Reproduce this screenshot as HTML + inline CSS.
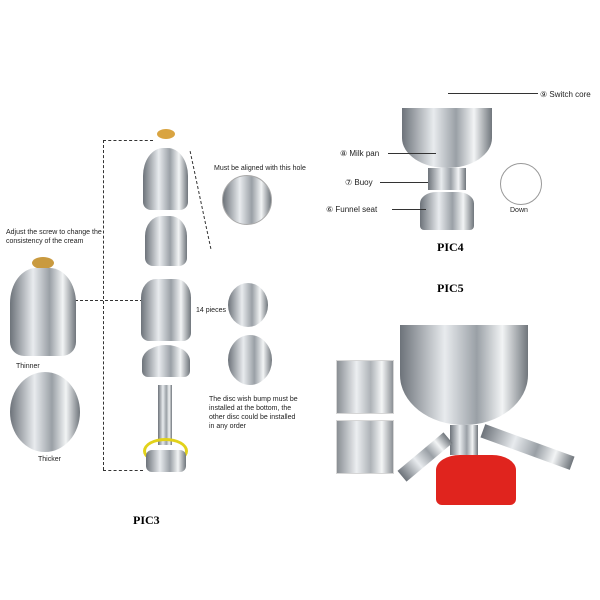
<!DOCTYPE html>
<html><head><style>
body{margin:0;width:600px;height:600px;background:#fff;position:relative;overflow:hidden;font-family:"Liberation Sans",sans-serif}
.a{position:absolute}
.t{position:absolute;font-size:7px;color:#222;line-height:9px}
.m{background:linear-gradient(90deg,#6d737a,#e8ebee 35%,#9aa0a6 60%,#f2f4f5 80%,#70767c)}
.b{font-family:"Liberation Serif",serif;font-weight:bold;font-size:12px;position:absolute}
.d{position:absolute;border:0 dashed #333}
.c{position:absolute;border-radius:50%}
</style></head><body>
<div class="d" style="left:103px;top:140px;height:330px;border-left-width:1px"></div>
<div class="d" style="left:103px;top:140px;width:50px;border-top-width:1px"></div>
<div class="d" style="left:103px;top:470px;width:40px;border-top-width:1px"></div>
<div class="d" style="left:75px;top:300px;width:68px;border-top-width:1px"></div>
<div class="d" style="left:200px;top:150px;height:100px;border-left-width:1px;border-style:dashed;transform:rotate(-12deg)"></div>
<div class="c" style="left:157px;top:129px;width:18px;height:10px;background:#d9a441"></div>
<div class="a m" style="left:143px;top:148px;width:45px;height:62px;border-radius:45% 45% 8px 8px"></div>
<div class="a m" style="left:145px;top:216px;width:42px;height:50px;border-radius:40% 40% 8px 8px"></div>
<div class="a m" style="left:141px;top:279px;width:50px;height:62px;border-radius:30% 30% 8px 8px"></div>
<div class="a m" style="left:142px;top:345px;width:48px;height:32px;border-radius:50% 50% 6px 6px"></div>
<div class="a m" style="left:158px;top:385px;width:14px;height:60px"></div>
<div class="c" style="left:143px;top:438px;width:45px;height:26px;border:3px solid #e2d21a;box-sizing:border-box"></div>
<div class="a m" style="left:146px;top:450px;width:40px;height:22px;border-radius:6px"></div>
<div class="c m" style="left:228px;top:283px;width:40px;height:44px"></div>
<div class="c m" style="left:228px;top:335px;width:44px;height:50px"></div>
<div class="c m" style="left:222px;top:175px;width:48px;height:48px;border:1px solid #aaa"></div>
<div class="c" style="left:32px;top:257px;width:22px;height:12px;background:#c99a3f"></div>
<div class="a m" style="left:10px;top:268px;width:66px;height:88px;border-radius:40% 40% 14px 14px"></div>
<div class="c m" style="left:10px;top:372px;width:70px;height:80px"></div>
<div class="t" style="left:6px;top:228px;width:100px">Adjust the screw to change the consistency of the cream</div>
<div class="t" style="left:214px;top:164px">Must be aligned with this hole</div>
<div class="t" style="left:196px;top:306px">14 pieces</div>
<div class="t" style="left:209px;top:395px;width:90px">The disc wish bump must be installed at the bottom, the other disc could be installed in any order</div>
<div class="t" style="left:16px;top:362px">Thinner</div>
<div class="t" style="left:38px;top:455px">Thicker</div>
<div class="b" style="left:133px;top:513px">PIC3</div>
<div class="a m" style="left:402px;top:108px;width:90px;height:60px;border-radius:0 0 50% 50%"></div>
<div class="a m" style="left:428px;top:168px;width:38px;height:22px"></div>
<div class="a m" style="left:420px;top:192px;width:54px;height:38px;border-radius:30% 30% 4px 4px"></div>
<div class="c" style="left:500px;top:163px;width:40px;height:40px;border:1px solid #999"></div>
<div class="t" style="left:510px;top:206px">Down</div>
<div class="t" style="left:540px;top:90px;font-size:8px">⑨ Switch core</div>
<div class="t" style="left:340px;top:149px;font-size:8px">⑧ Milk pan</div>
<div class="t" style="left:345px;top:178px;font-size:8px">⑦ Buoy</div>
<div class="t" style="left:326px;top:205px;font-size:8px">⑥ Funnel seat</div>
<div class="d" style="left:448px;top:93px;width:90px;border-top-width:1px;border-style:solid"></div>
<div class="d" style="left:388px;top:153px;width:48px;border-top-width:1px;border-style:solid"></div>
<div class="d" style="left:380px;top:182px;width:48px;border-top-width:1px;border-style:solid"></div>
<div class="d" style="left:392px;top:209px;width:34px;border-top-width:1px;border-style:solid"></div>
<div class="b" style="left:437px;top:240px">PIC4</div>
<div class="b" style="left:437px;top:281px">PIC5</div>
<div class="a m" style="left:400px;top:325px;width:128px;height:100px;border-radius:0 0 50% 50%"></div>
<div class="a m" style="left:450px;top:425px;width:28px;height:30px"></div>
<div class="a" style="left:436px;top:455px;width:80px;height:50px;background:#e0241e;border-radius:30% 30% 6px 6px"></div>
<div class="a m" style="left:395px;top:450px;width:60px;height:14px;transform:rotate(-40deg)"></div>
<div class="a m" style="left:480px;top:440px;width:95px;height:14px;transform:rotate(20deg)"></div>
<div class="a m" style="left:336px;top:360px;width:56px;height:52px;border:1px solid #ccc;opacity:.8"></div>
<div class="a m" style="left:336px;top:420px;width:56px;height:52px;border:1px solid #ccc;opacity:.8"></div>
</body></html>
